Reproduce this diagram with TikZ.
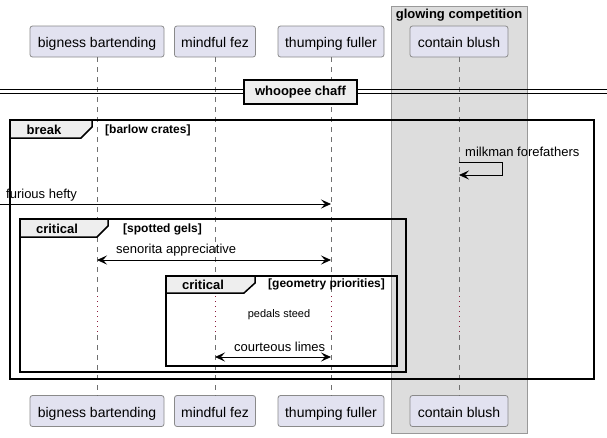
\documentclass[tikz,border=0pt]{standalone}
\usepackage{fontspec}
\setmainfont{Liberation Sans}
\usetikzlibrary{arrows.meta}
\definecolor{partfill}{HTML}{E2E2F0}
\definecolor{partdraw}{HTML}{8A8A8A}
\definecolor{grpfill}{HTML}{DDDDDD}
\definecolor{grpdraw}{HTML}{999999}
\definecolor{tabfill}{HTML}{EEEEEE}
\definecolor{lifec}{HTML}{707070}
\definecolor{dotc}{HTML}{8B1A3A}
\tikzset{
 part/.style={draw=partdraw, fill=partfill, rounded corners=2.5pt, minimum height=31pt, inner xsep=2pt, text height=13pt, text depth=1pt, font=\fontsize{14}{16}\selectfont, line width=0.8pt},
 lifeline/.style={draw=lifec, dash pattern=on 5pt off 5pt, line width=0.7pt},
 dotline/.style={draw=dotc, dash pattern=on 1pt off 4pt, line width=1pt},
 frame/.style={draw=black, line width=1.5pt},
 tab/.style={draw=black, fill=tabfill, line width=1.5pt},
 tablabel/.style={font=\bfseries\fontsize{13}{15}\selectfont, inner sep=0pt},
 guard/.style={font=\bfseries\fontsize{12}{14}\selectfont, inner sep=0pt, anchor=west},
 msg/.style={draw=black, line width=0.8pt, -{Stealth[length=10pt,width=9pt,inset=4pt]}},
 msgb/.style={draw=black, line width=0.8pt, {Stealth[length=10pt,width=9pt,inset=4pt]}-{Stealth[length=10pt,width=9pt,inset=4pt]}},
 msglabel/.style={font=\fontsize{13}{15}\selectfont, inner sep=0pt, anchor=west},
 notetext/.style={font=\fontsize{11}{13}\selectfont, inner sep=0pt},
}
\begin{document}
\begin{tikzpicture}[x=1pt,y=-1pt]
\useasboundingbox[fill=white] (0,0) rectangle (607,437);
% group box
\draw[draw=grpdraw, fill=grpfill, line width=1pt] (391,6) rectangle (527,433);
\node[font=\bfseries\fontsize{13}{15}\selectfont, inner sep=0pt] (grp) at (459,15) {glowing competition};
% participants
\node[part, minimum width=134pt] (bbT) at (97,41.5) {bigness bartending};
\node[part, minimum width=81pt] (mfT) at (215,41.5) {mindful fez};
\node[part, minimum width=106pt] (tfT) at (331,41.5) {thumping fuller};
\node[part, minimum width=98pt] (cbT) at (459,41.5) {contain blush};
\node[part, minimum width=134pt] (bbB) at (97,411) {bigness bartending};
\node[part, minimum width=81pt] (mfB) at (215,411) {mindful fez};
\node[part, minimum width=106pt] (tfB) at (331,411) {thumping fuller};
\node[part, minimum width=98pt] (cbB) at (459,411) {contain blush};
% lifelines
\foreach \p in {bb,mf,tf,cb}{
  \coordinate (\p D1) at (\p T.south |- 0,296);
  \coordinate (\p D2) at (\p T.south |- 0,335);
  \draw[lifeline] (\p T.south) -- (\p D1);
  \draw[dotline] (\p D1) -- (\p D2);
  \draw[lifeline] (\p D2) -- (\p B.north);
}
% divider
\draw[line width=1pt] (0,89) -- (607,89);
\draw[line width=1pt] (0,93) -- (607,93);
\node[draw=black, fill=tabfill, line width=2pt, minimum width=113pt, minimum height=24pt, inner sep=0pt, font=\bfseries\fontsize{13}{15}\selectfont] (div) at (300.5,92) {whoopee chaff};
% break frame
\draw[frame] (10,120) rectangle (594,379);
\draw[tab] (10,120) -- (92,120) -- (92,127) -- (81,138) -- (10,138) -- cycle;
\node[tablabel] (brk) at (44,130) {break};
\node[guard] (brkg) at (105,130) {[barlow crates]};
% critical 1
\draw[frame] (20,219) rectangle (406,372);
\draw[tab] (20,219) -- (108,219) -- (108,226) -- (97,237) -- (20,237) -- cycle;
\node[tablabel] (cr1) at (57,229) {critical};
\node[guard] (cr1g) at (123,229) {[spotted gels]};
% critical 2
\draw[frame] (166,276) rectangle (397,366);
\draw[tab] (166,276) -- (255,276) -- (255,283) -- (244,293) -- (166,293) -- cycle;
\node[tablabel] (cr2) at (203,285) {critical};
\node[guard] (cr2g) at (268,284) {[geometry priorities]};
% messages
\coordinate (m1a) at (cbT.south |- 0,162);
\coordinate (m1b) at (502,162);
\coordinate (m1c) at (502,175);
\coordinate (m1d) at (cbT.south |- 0,175);
\draw[msg] (m1a) -- (m1b) -- (m1c) -- (m1d);
\node[msglabel] (m1l) at (465,152) {milkman forefathers};
\coordinate (m2a) at (0,204);
\coordinate (m2b) at (tfT.south |- 0,204);
\draw[msg] (m2a) -- (m2b);
\node[msglabel] (m2l) at (6,195) {furious hefty};
\coordinate (m3a) at (bbT.south |- 0,260);
\coordinate (m3b) at (tfT.south |- 0,260);
\draw[msgb] (m3a) -- (m3b);
\node[msglabel] (m3l) at (116,250) {senorita appreciative};
\node[notetext] (note) at (279,315) {pedals steed};
\coordinate (m4a) at (mfT.south |- 0,357);
\coordinate (m4b) at (tfT.south |- 0,357);
\draw[msgb] (m4a) -- (m4b);
\node[msglabel] (m4l) at (234,347) {courteous limes};
\end{tikzpicture}
\end{document}
